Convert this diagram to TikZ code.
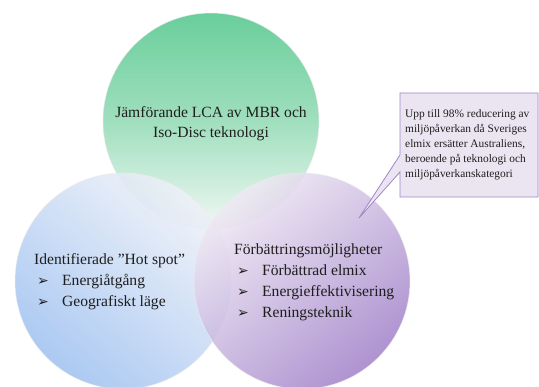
\documentclass[tikz,border=0pt]{standalone}
\usepackage{fontspec}
\setmainfont{Liberation Serif}
\newfontfamily\dejavu{DejaVu Sans}
\definecolor{gtop}{HTML}{50C68A}
\definecolor{gmid}{HTML}{8FD9B2}
\definecolor{gbot}{HTML}{EEF7F3}
\definecolor{blight}{HTML}{EEF1F8}
\definecolor{bdark}{HTML}{9DC0F0}
\definecolor{plight}{HTML}{EFE9F4}
\definecolor{pdark}{HTML}{A080C8}
\definecolor{cfill}{HTML}{EBE5F2}
\definecolor{cline}{HTML}{9F86C6}
\definecolor{txt}{HTML}{1E1E1E}
\newcommand{\arrbul}{\makebox[25pt][l]{\raisebox{0.5pt}{\dejavu\fontsize{14}{14}\selectfont ➢}}}
\tikzset{
  venn/.style={circle, minimum size=216pt, inner sep=0pt, draw=white!85!gray, line width=0.6pt, fill opacity=0.85, draw opacity=0.8},
  maintxt/.style={text=txt, font=\fontsize{15.6}{21}\selectfont, inner sep=0pt},
  linetxt/.style={maintxt, anchor=base west},
  calltxt/.style={text=txt, font=\fontsize{11.4}{15}\selectfont, inner sep=0pt, anchor=base west},
}
\begin{document}
\begin{tikzpicture}[x=1pt,y=-1pt]
\useasboundingbox (0,0) rectangle (539,387);
% circles
\node[venn, top color=gtop, bottom color=gbot, middle color=gmid] (top) at (211,121) {};
\node[venn, top color=blight, bottom color=bdark, shading angle=-40] (left) at (123,281) {};
\node[venn, top color=plight, bottom color=pdark, shading angle=40] (right) at (302,281) {};
% top text
\node[maintxt, anchor=base] (t1) at (211,118) {Jämförande LCA av MBR och};
\node[maintxt, anchor=base] (t2) at (211,138) {Iso-Disc teknologi};
% left text
\node[linetxt] (l1) at (34,265) {Identifierade ”Hot spot”};
\node[linetxt] (l2) at (37,286) {\arrbul Energiåtgång};
\node[linetxt] (l3) at (37,307) {\arrbul Geografiskt läge};
% right text
\node[linetxt] (r1) at (234,255) {Förbättringsmöjligheter};
\node[linetxt] (r2) at (237,276) {\arrbul Förbättrad elmix};
\node[linetxt] (r3) at (237,297) {\arrbul Energieffektivisering};
\node[linetxt] (r4) at (237,318) {\arrbul Reningsteknik};
% callout
\coordinate (tip) at (359,218);
\draw[cline, fill=cfill, line width=0.8pt, line join=miter]
  (400,93) -- (538,93) -- (538,197) -- (400,197) -- (400,172) -- (tip) -- (400,155) -- cycle;
\node[calltxt] (c1) at (405,118) {Upp till 98\% reducering av};
\node[calltxt] (c2) at (405,133) {miljöpåverkan då Sveriges};
\node[calltxt] (c3) at (405,148) {elmix ersätter Australiens,};
\node[calltxt] (c4) at (405,163) {beroende på teknologi och};
\node[calltxt] (c5) at (405,178) {miljöpåverkanskategori};
\end{tikzpicture}
\end{document}
